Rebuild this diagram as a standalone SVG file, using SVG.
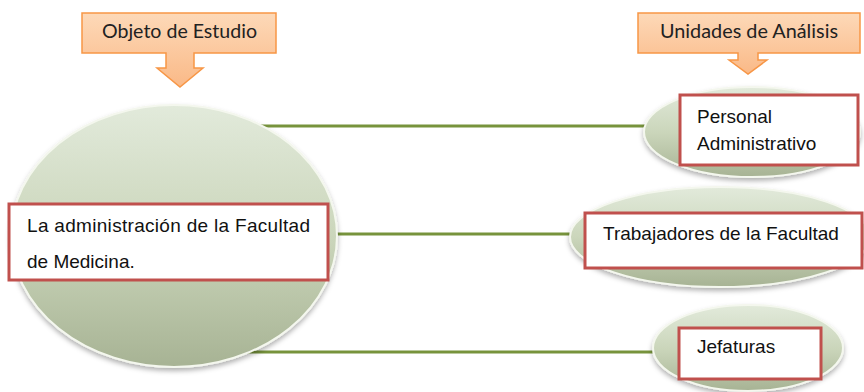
<svg xmlns="http://www.w3.org/2000/svg" width="864" height="392" viewBox="0 0 864 392">
<defs>
<linearGradient id="gEll" x1="0" y1="0" x2="0" y2="1">
<stop offset="0" stop-color="#e2eadb"/>
<stop offset="0.5" stop-color="#cbd6bb"/>
<stop offset="1" stop-color="#a7b394"/>
</linearGradient>
<linearGradient id="gOr" x1="0" y1="0" x2="0" y2="1">
<stop offset="0" stop-color="#fdd9b8"/>
<stop offset="1" stop-color="#fab987"/>
</linearGradient>
<filter id="sh" x="-10%" y="-10%" width="120%" height="130%">
<feDropShadow dx="0" dy="3" stdDeviation="2.5" flood-color="#000" flood-opacity="0.3"/>
</filter>
</defs>
<style>
.ell{fill:url(#gEll);stroke:#f4f7ee;stroke-width:2;filter:url(#sh)}
.box{fill:#fff;stroke:#c0504d;stroke-width:3}
.call{fill:url(#gOr);stroke:#f79646;stroke-width:1.5}
.t{font-family:"Liberation Sans",Arial,sans-serif;font-size:19px;fill:#111}
.h{font-family:Lato,"Open Sans",sans-serif;font-size:18.5px;fill:#222}
.ln{stroke:#77933c;stroke-width:3;fill:none}
</style>
<rect width="864" height="392" fill="#fff"/>
<g id="connectors">
<line class="ln" x1="240" y1="126" x2="660" y2="126"/>
<line class="ln" x1="320" y1="234" x2="580" y2="234"/>
<line class="ln" x1="240" y1="352" x2="670" y2="352"/>
</g>
<g id="objeto">
<path class="call" d="M82,13 H276 V53 H194 V68 H203 L180,87 L157,68 H166 V53 H82 Z"/>
<text class="h" x="102" y="38" textLength="155" lengthAdjust="spacingAndGlyphs">Objeto de Estudio</text>
</g>
<g id="unidades">
<path class="call" d="M638,13 H860 V53 H758 V60 H767 L748,74 L729,60 H738 V53 H638 Z"/>
<text class="h" x="660" y="38" textLength="178" lengthAdjust="spacingAndGlyphs">Unidades de Análisis</text>
</g>
<g id="administracion">
<ellipse class="ell" cx="174" cy="236" rx="163" ry="131"/>
<rect class="box" x="9" y="204" width="319" height="76"/>
<text class="t" x="27" y="232" textLength="283" lengthAdjust="spacing">La administración de la Facultad</text>
<text class="t" x="27" y="268">de Medicina.</text>
</g>
<g id="personal">
<ellipse class="ell" cx="752" cy="132" rx="108" ry="45"/>
<rect class="box" x="680" y="95" width="178" height="70"/>
<text class="t" x="697" y="123">Personal</text>
<text class="t" x="697" y="150">Administrativo</text>
</g>
<g id="trabajadores">
<ellipse class="ell" cx="720" cy="237" rx="150" ry="50"/>
<rect class="box" x="585" y="213" width="277" height="55"/>
<text class="t" x="603" y="240">Trabajadores de la Facultad</text>
</g>
<g id="jefaturas">
<ellipse class="ell" cx="748" cy="348" rx="95" ry="43"/>
<rect class="box" x="679" y="328" width="142" height="51"/>
<text class="t" x="697" y="353">Jefaturas</text>
</g>
</svg>
